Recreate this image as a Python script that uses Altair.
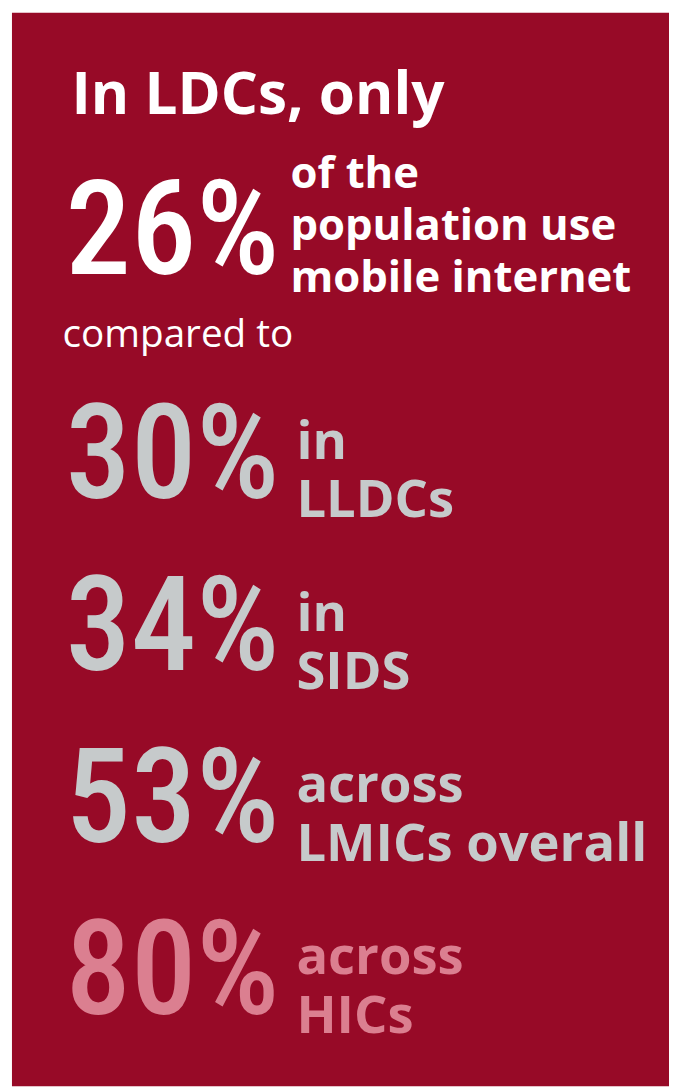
import altair as alt
import pandas as pd

# ---- data ----
header = "In LDCs, only"
connector = "compared to"
shares = [26, 30, 34, 53, 80]
captions = [
    ["of the", "population use", "mobile internet"],
    ["in", "LLDCs"],
    ["in", "SIDS"],
    ["across", "LMICs overall"],
    ["across", "HICs"],
]

# ---- styling / layout ----
BG = "#970A27"
WHITE = "#FFFFFF"
GREY = "#C6CACB"
PINK = "#DB7F90"
row_colors = [WHITE, GREY, GREY, GREY, PINK]
OFF = 8    # view origin in page y
LEFT = 12  # view origin in page x


def base_y(i):
    # baseline of last caption line (page coords)
    if i == 0:
        return 290
    return 517 + (i - 1) * 173.3


num_rows, lab_rows = [], []
for i, (v, cap) in enumerate(zip(shares, captions)):
    b = base_y(i)
    num_rows.append({"txt": f"{v}%", "x": 66 - LEFT, "y": b - 19 - OFF, "c": row_colors[i]})
    lh = 52.5 if i == 0 else 59
    fs = 44 if i == 0 else 53
    lx = 293 if i == 0 else 299
    n = len(cap)
    first_base = b - (n - 1) * lh
    lab_rows.append({"txt": "\n".join(cap), "x": lx - LEFT,
                     "y": first_base - round(0.79 * fs) - OFF,
                     "c": row_colors[i], "fs": fs, "lh": lh})

nums = pd.DataFrame(num_rows)
labs = pd.DataFrame(lab_rows)
head = pd.DataFrame([{"txt": header, "x": 72 - LEFT, "y": 110 - OFF, "c": WHITE}])
conn = pd.DataFrame([{"txt": connector, "x": 63 - LEFT, "y": 345 - OFF, "c": WHITE}])

X = alt.X("x:Q", scale=None, axis=None)
Y = alt.Y("y:Q", scale=None, axis=None)
C = alt.Color("c:N", scale=None, legend=None)

head_l = alt.Chart(head).mark_text(font="Open Sans", fontWeight="bold", fontSize=59,
                                   align="left", baseline="alphabetic").encode(x=X, y=Y, color=C, text="txt:N")
conn_l = alt.Chart(conn).mark_text(font="Open Sans", fontWeight="normal", fontSize=39,
                                   align="left", baseline="alphabetic").encode(x=X, y=Y, color=C, text="txt:N")
num_l = alt.Chart(nums).mark_text(font="Roboto Condensed", fontWeight=500, fontSize=132,
                                  align="left", baseline="alphabetic").encode(x=X, y=Y, color=C, text="txt:N")

lab_layers = []
for _, r in labs.iterrows():
    d = labs[labs.txt == r.txt]
    lab_layers.append(
        alt.Chart(d).mark_text(font="Open Sans", fontWeight="bold", fontSize=float(r.fs),
                               lineHeight=float(r.lh), lineBreak="\n",
                               align="left", baseline="top").encode(x=X, y=Y, color=C, text="txt:N")
    )

chart = (
    alt.layer(head_l, conn_l, num_l, *lab_layers)
    .properties(width=663, height=1083,
                autosize=alt.AutoSizeParams(type="none"),
                padding={"left": 4, "top": 0, "right": 0, "bottom": 0})
    .configure_view(fill=BG, stroke=None)
)
chart.save("out.html", embed_options={"renderer": "svg", "actions": False})
